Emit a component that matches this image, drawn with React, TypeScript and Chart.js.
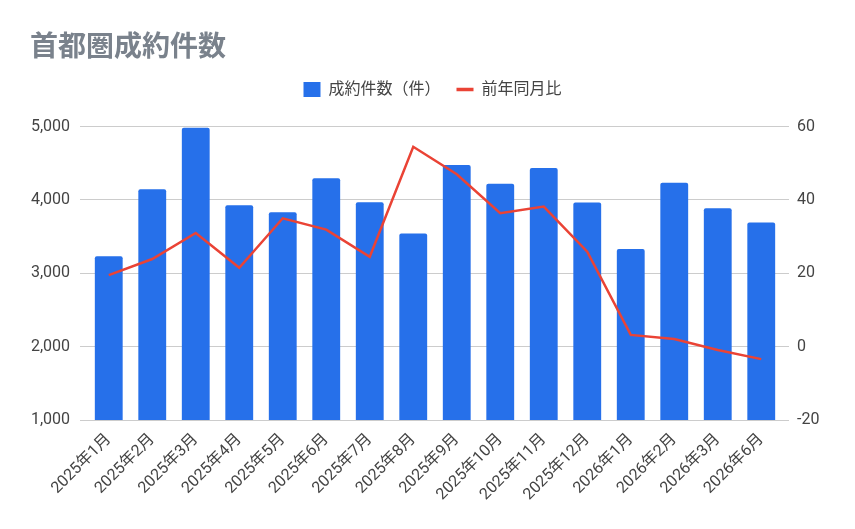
import React, { useEffect, useRef } from "react";
import { Chart, registerables } from "chart.js";

Chart.register(...registerables);

const categories = [
  "2025年1月", "2025年2月", "2025年3月", "2025年4月", "2025年5月", "2025年6月",
  "2025年7月", "2025年8月", "2025年9月", "2025年10月", "2025年11月", "2025年12月",
  "2026年1月", "2026年2月", "2026年3月", "2026年6月",
];
const contracts = [3232, 4146, 4985, 3928, 3832, 4296, 3969, 3541, 4475, 4222, 4436, 3964, 3332, 4236, 3887, 3692];
const yoy = [19.5, 23.9, 31.0, 21.5, 35.0, 31.9, 24.5, 54.5, 47.0, 36.4, 38.2, 25.9, 3.2, 2.1, -0.9, -3.4];
const leftTicks = [1000, 2000, 3000, 4000, 5000];
const rightTicks = [-20, 0, 20, 40, 60];

const FONT = "Roboto, 'Noto Sans CJK JP', 'Noto Sans', sans-serif";

export default function App() {
  const ref = useRef<HTMLCanvasElement | null>(null);
  useEffect(() => {
    document.body.style.margin = "0";
    const ctx = ref.current!.getContext("2d")!;
    const legendMargin = {
      id: "legendMargin",
      beforeInit(chart: any) {
        const fit = chart.legend.fit;
        chart.legend.fit = function () {
          fit.bind(chart.legend)();
          this.height += 19;
        };
      },
    };
    const chart = new Chart(ctx, {
      type: "bar",
      data: {
        labels: categories,
        datasets: [
          {
            type: "bar",
            label: "成約件数（件）",
            data: contracts,
            backgroundColor: "#2670ea",
            borderColor: "#2670ea",
            borderWidth: 0,
            borderRadius: 2,
            barPercentage: 0.64,
            categoryPercentage: 1,
            yAxisID: "y",
            pointStyle: "rect",
            order: 2,
          },
          {
            type: "line",
            label: "前年同月比",
            data: yoy,
            borderColor: "#ea4335",
            backgroundColor: "#ea4335",
            borderWidth: 2.5,
            pointRadius: 0,
            pointStyle: "line",
            tension: 0,
            yAxisID: "y1",
            order: 1,
          } as any,
        ],
      },
      options: {
        responsive: false,
        animation: false,
        layout: { padding: { left: 30, right: 20, top: 0, bottom: 0 } },
        plugins: {
          title: {
            display: true,
            text: "首都圏成約件数",
            align: "start",
            color: "#7a828c",
            font: { family: FONT, size: 28, weight: "bold" },
            padding: { top: 32, bottom: 0 },
          },
          legend: {
            display: true,
            position: "top",
            labels: {
              usePointStyle: true,
              pointStyleWidth: 17,
              boxHeight: 15,
              color: "#444",
              font: { family: FONT, size: 16 },
              padding: 16,
              sort: (a: any, b: any) => a.datasetIndex - b.datasetIndex,
              generateLabels: (chart: any) => {
                const items = (Chart as any).defaults.plugins.legend.labels.generateLabels(chart);
                return items.map((it: any) => {
                  if (it.datasetIndex === 1) it.lineWidth = 3.5;
                  else it.lineWidth = 0;
                  return it;
                });
              },
            },
          },
          tooltip: { enabled: false },
        },
        scales: {
          x: {
            grid: { display: false },
            border: { display: false },
            ticks: {
              color: "#444",
              font: { family: FONT, size: 16 },
              minRotation: 45,
              maxRotation: 45,
              autoSkip: false,
              padding: 2,
            },
            afterFit(scale: any) {
              scale.height = 109;
            },
          },
          y: {
            position: "left",
            min: 1000,
            max: 5000,
            afterBuildTicks(scale: any) {
              scale.ticks = leftTicks.map((v) => ({ value: v }));
            },
            grid: { color: "#cccccc", tickLength: 7, lineWidth: 1 },
            border: { display: false },
            ticks: {
              color: "#444",
              font: { family: FONT, size: 16 },
              padding: 10,
              callback: (v: any) => Number(v).toLocaleString("en-US"),
            },
            afterFit(scale: any) {
              scale.width = 57;
            },
          },
          y1: {
            position: "right",
            min: -20,
            max: 60,
            afterBuildTicks(scale: any) {
              scale.ticks = rightTicks.map((v) => ({ value: v }));
            },
            grid: { drawOnChartArea: false, color: "#cccccc", tickLength: 6 },
            border: { display: false },
            ticks: {
              color: "#444",
              font: { family: FONT, size: 16 },
              padding: 8,
            },
            afterFit(scale: any) {
              scale.width = 52;
            },
          },
        },
      } as any,
      plugins: [legendMargin],
    });
    return () => chart.destroy();
  }, []);
  return (
    <div style={{ width: 855, height: 529 }}>
      <canvas ref={ref} width={855} height={529} style={{ display: "block" }} />
    </div>
  );
}
